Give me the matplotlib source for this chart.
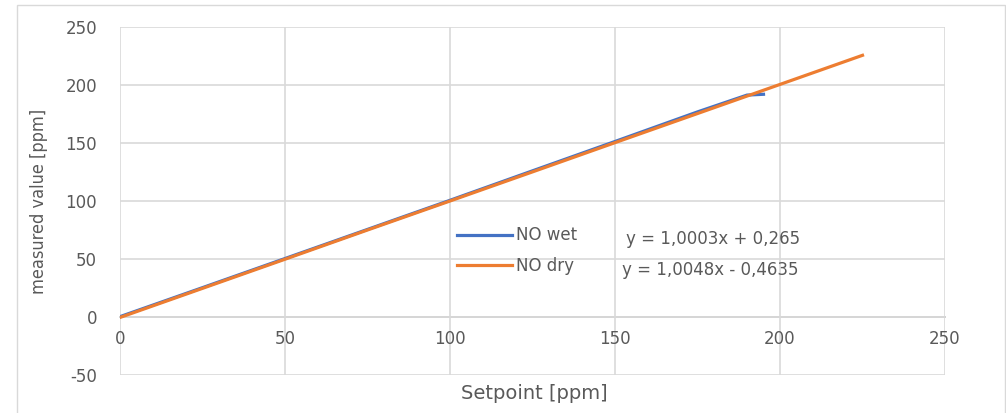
import matplotlib.pyplot as plt
from matplotlib.patches import Rectangle

# calibration data
setpoint_wet = [0, 25, 50, 75, 100, 125, 150, 175, 190, 195]
measured_wet = [0.3, 25.3, 50.4, 75.5, 100.6, 126.0, 151.3, 176.8, 191.3, 192.0]
setpoint_dry = [0, 25, 50, 75, 100, 125, 150, 175, 200, 225]
measured_dry = [-0.4, 24.7, 49.8, 75.0, 100.0, 125.1, 150.3, 175.4, 200.5, 225.6]

series_labels = ['NO wet', 'NO dry']
fit_labels = ['y = 1,0003x + 0,265', 'y = 1,0048x - 0,4635']
x_ticks = [0, 50, 100, 150, 200, 250]
y_ticks = [-50, 0, 50, 100, 150, 200, 250]

plt.rcParams['font.family'] = 'DejaVu Sans'
txt = '#595959'
grid_c = '#d9d9d9'

fig = plt.figure(figsize=(10.06, 4.13), dpi=100)
fig.patches.append(Rectangle((17 / 1006, -0.1), (1005 - 17) / 1006, 1.1 - 5 / 413,
                             transform=fig.transFigure, fill=False,
                             edgecolor='#d9d9d9', lw=1))

ax = fig.add_axes([120 / 1006, 1 - 375 / 413, 825 / 1006, 348 / 413])
ax.set_xlim(0, 250)
ax.set_ylim(-50, 250)
ax.set_xticks(x_ticks)
ax.set_yticks(y_ticks)
ax.set_yticklabels([str(v) for v in y_ticks])
ax.grid(True, color=grid_c, lw=1.2)
ax.set_axisbelow(True)
for s in ['top', 'right', 'left']:
    ax.spines[s].set_visible(False)
ax.spines['bottom'].set_position(('data', 0))
ax.spines['bottom'].set_color('#bfbfbf')
ax.spines['bottom'].set_linewidth(1.2)
ax.spines['bottom'].set_zorder(0.5)
ax.tick_params(length=0, labelsize=12, colors=txt)
ax.tick_params(axis='x', pad=9)
ax.tick_params(axis='y', pad=16.5)

l1, = ax.plot(setpoint_wet, measured_wet, color='#4472c4', lw=2.3, label=series_labels[0])
l2, = ax.plot(setpoint_dry, measured_dry, color='#ed7d31', lw=2.3, label=series_labels[1])

ax.set_xlabel('Setpoint [ppm]', fontsize=14, color=txt)
ax.xaxis.set_label_coords(0.502, -0.025)
ax.set_ylabel('measured value [ppm]', fontsize=13, color=txt, fontstretch='condensed')
ax.yaxis.set_label_coords(-0.087, 0.5)

leg = ax.legend(handles=[l1, l2], loc='upper left', bbox_to_anchor=(0.39, 0.47),
                frameon=False, fontsize=12, handlelength=3.3, handletextpad=0.25,
                labelspacing=0.75, labelcolor=txt)

ax.text(0.613, 0.39, fit_labels[0], transform=ax.transAxes, fontsize=12, color=txt,
        va='center')
ax.text(0.609, 0.303, fit_labels[1], transform=ax.transAxes, fontsize=12, color=txt,
        va='center')

fig.savefig('out.png', dpi=100)
